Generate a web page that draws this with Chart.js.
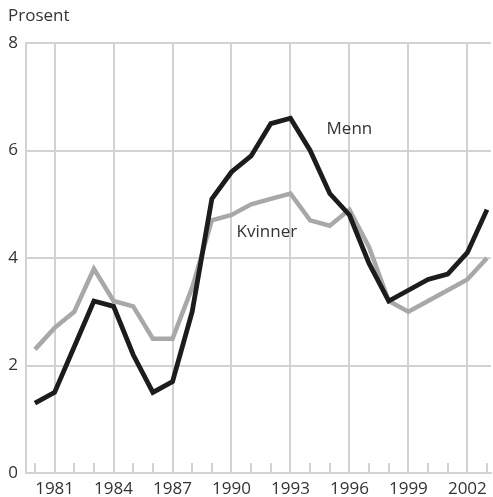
<!DOCTYPE html>
<html>
<head>
<meta charset="utf-8">
<script src="https://cdn.jsdelivr.net/npm/chart.js@4"></script>
<style>
  html, body { margin: 0; padding: 0; background: #fff; }
  #wrap { width: 493px; height: 497px; position: relative; }
</style>
</head>
<body>
<div id="wrap"><canvas id="chart"></canvas></div>
<script>
// data
var years = [1980, 1981, 1982, 1983, 1984, 1985, 1986, 1987, 1988, 1989, 1990, 1991,
             1992, 1993, 1994, 1995, 1996, 1997, 1998, 1999, 2000, 2001, 2002, 2003];
var menn = [1.3, 1.5, 2.35, 3.2, 3.1, 2.2, 1.5, 1.7, 3.0, 5.1, 5.6, 5.9,
            6.5, 6.6, 6.0, 5.2, 4.8, 3.9, 3.2, 3.4, 3.6, 3.7, 4.1, 4.9];
var kvinner = [2.3, 2.7, 3.0, 3.8, 3.2, 3.1, 2.5, 2.5, 3.45, 4.7, 4.8, 5.0,
               5.1, 5.2, 4.7, 4.6, 4.9, 4.2, 3.2, 3.0, 3.2, 3.4, 3.6, 4.0];
var labelYears = [1981, 1984, 1987, 1990, 1993, 1996, 1999, 2002];
var yTicks = [0, 2, 4, 6, 8];
var seriesNames = ['Menn', 'Kvinner'];

var gridColor = '#d2d2d2';
var textColor = '#333333';
var fontFamily = '"Open Sans", "DejaVu Sans", sans-serif';

var toPoints = (vals) => vals.map((v, i) => ({ x: years[i], y: v }));

// line names sit next to their lines, placed in data units
var namePos = { Menn: [1996, 6.4], Kvinner: [1991.8, 4.48] };

var lineNames = {
    id: 'lineNames',
    afterDatasetsDraw: (chart) => {
        var ctx = chart.ctx, xs = chart.scales.x, ys = chart.scales.y;
        ctx.save();
        ctx.font = '17px ' + fontFamily;
        ctx.fillStyle = textColor;
        ctx.textAlign = 'center';
        ctx.textBaseline = 'middle';
        seriesNames.forEach(function (name) {
            var p = namePos[name];
            ctx.fillText(name, xs.getPixelForValue(p[0]), ys.getPixelForValue(p[1]));
        });
        ctx.restore();
    }
};

// short year ticks standing up from the bottom axis
var yearTicks = {
    id: 'yearTicks',
    beforeDatasetsDraw: (chart) => {
        var ctx = chart.ctx, xs = chart.scales.x;
        var bottom = chart.chartArea.bottom;
        ctx.save();
        ctx.strokeStyle = gridColor;
        ctx.lineWidth = 2;
        years.forEach(function (yr) {
            var px = Math.round(xs.getPixelForValue(yr));
            ctx.beginPath();
            ctx.moveTo(px, bottom);
            ctx.lineTo(px, bottom - 10);
            ctx.stroke();
        });
        ctx.restore();
    }
};

var ctx = document.getElementById('chart').getContext('2d');
new Chart(ctx, {
    type: 'line',
    data: {
        datasets: [{
            label: 'Kvinner',
            data: toPoints(kvinner),
            borderColor: '#a8a8a8',
            borderWidth: 4.5,
            pointRadius: 0,
            tension: 0,
            order: 2
        }, {
            label: 'Menn',
            data: toPoints(menn),
            borderColor: '#1c1c1c',
            borderWidth: 4.8,
            pointRadius: 0,
            tension: 0,
            order: 1
        }]
    },
    options: {
        responsive: true,
        maintainAspectRatio: false,
        animation: false,
        layout: { padding: { left: 8, right: 0, top: 0, bottom: 0 } },
        plugins: {
            legend: { display: false },
            tooltip: { enabled: false },
            title: {
                display: true,
                text: 'Prosent',
                align: 'start',
                color: textColor,
                font: { family: fontFamily, size: 17, weight: 'normal', lineHeight: 1.2 },
                padding: { top: 6, bottom: 16.6 }
            }
        },
        scales: {
            x: {
                type: 'linear',
                min: 1979.545,
                max: 2003.2,
                afterBuildTicks: (scale) => {
                    scale.ticks = years.map(v => ({ value: v }));
                },
                afterFit: (scale) => { scale.height = 24; },
                ticks: {
                    autoSkip: false,
                    maxRotation: 0,
                    padding: 6,
                    color: textColor,
                    font: { family: fontFamily, size: 17 },
                    callback: (v) => labelYears.includes(v) ? String(v) : ''
                },
                grid: {
                    drawTicks: false,
                    lineWidth: 2,
                    color: (c) => (c.tick && labelYears.includes(c.tick.value)) ? gridColor : 'rgba(0,0,0,0)'
                },
                border: { display: true, color: gridColor, width: 2 }
            },
            y: {
                min: 0,
                max: 8,
                afterBuildTicks: (scale) => {
                    scale.ticks = yTicks.map(v => ({ value: v }));
                },
                afterFit: (scale) => { scale.width = 18; },
                ticks: {
                    padding: 8,
                    color: textColor,
                    font: { family: fontFamily, size: 17 }
                },
                grid: { drawTicks: false, lineWidth: 2, color: gridColor },
                border: { display: true, color: gridColor, width: 2 }
            }
        }
    },
    plugins: [yearTicks, lineNames]
});
</script>
</body>
</html>
